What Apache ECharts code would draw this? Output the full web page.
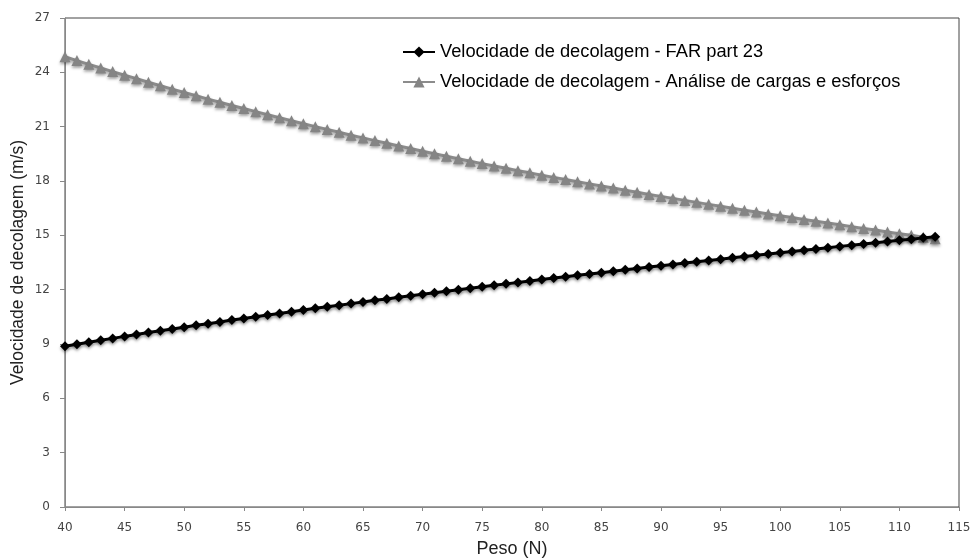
<!DOCTYPE html>
<html>
<head>
<meta charset="utf-8">
<script src="https://cdn.jsdelivr.net/npm/echarts@6/dist/echarts.min.js"></script>
<style>
html,body{margin:0;padding:0;background:#fff;}
#chart{width:975px;height:559px;}
</style>
</head>
<body>
<div id="chart"></div>
<script>
var pesos = [40,41,42,43,44,45,46,47,48,49,50,51,52,53,54,55,56,57,58,59,60,61,62,63,64,65,66,67,68,69,70,71,72,73,74,75,76,77,78,79,80,81,82,83,84,85,86,87,88,89,90,91,92,93,94,95,96,97,98,99,100,101,102,103,104,105,106,107,108,109,110,111,112,113];
var vFar = [8.88,8.99,9.10,9.21,9.31,9.42,9.52,9.63,9.73,9.83,9.93,10.03,10.12,10.22,10.32,10.41,10.51,10.60,10.69,10.78,10.88,10.97,11.06,11.14,11.23,11.32,11.41,11.49,11.58,11.66,11.75,11.83,11.91,12.00,12.08,12.16,12.24,12.32,12.40,12.48,12.56,12.64,12.71,12.79,12.87,12.94,13.02,13.10,13.17,13.25,13.32,13.39,13.47,13.54,13.61,13.68,13.76,13.83,13.90,13.97,14.04,14.11,14.18,14.25,14.32,14.39,14.45,14.52,14.59,14.66,14.73,14.79,14.86,14.92];
var vCargas = [24.86,24.65,24.44,24.24,24.04,23.84,23.65,23.45,23.26,23.07,22.89,22.71,22.52,22.35,22.17,22.00,21.83,21.66,21.49,21.33,21.16,21.00,20.85,20.69,20.53,20.38,20.23,20.08,19.93,19.79,19.64,19.50,19.37,19.23,19.09,18.96,18.83,18.70,18.57,18.45,18.32,18.20,18.08,17.96,17.84,17.72,17.61,17.49,17.38,17.26,17.15,17.04,16.93,16.82,16.71,16.61,16.50,16.39,16.29,16.18,16.08,15.98,15.88,15.78,15.68,15.58,15.48,15.38,15.29,15.19,15.09,15.00,14.90,14.81];
var serieNames = ['Velocidade de decolagem - FAR part 23','Velocidade de decolagem - Análise de cargas e esforços'];
var xName = 'Peso (N)';
var yName = 'Velocidade de decolagem (m/s)';

function pairs(ys){ return pesos.map(function(x,i){ return [x, ys[i]]; }); }

var chart = echarts.init(document.getElementById('chart'), null, {renderer:'canvas'});
var labelFont = {fontFamily:'DejaVu Sans', fontSize:12, color:'#444'};
var shadow = {shadowColor:'rgba(0,0,0,0.35)', shadowBlur:3, shadowOffsetY:2};
chart.setOption({
  animation:false,
  backgroundColor:'#fff',
  grid:{left:65, right:16, top:18, bottom:52, outerBoundsMode:'none', containLabel:false, show:true, borderColor:'#444', borderWidth:1, backgroundColor:'transparent'},
  legend:{
    orient:'vertical', left:397, top:38, itemWidth:32, itemHeight:14, itemGap:12,
    textStyle:{fontFamily:'Liberation Sans', fontSize:18.3, color:'#000'},
    data:serieNames
  },
  xAxis:{
    type:'value', min:40, max:115, interval:5,
    name:xName, nameLocation:'middle', nameGap:33, nameMoveOverlap:false,
    nameTextStyle:{fontFamily:'Liberation Sans', fontSize:18, color:'#222'},
    axisLine:{show:true, lineStyle:{color:'#888', width:1}},
    axisTick:{show:true, inside:false, length:4, lineStyle:{color:'#888'}},
    axisLabel:Object.assign({margin:15}, labelFont),
    splitLine:{show:false}
  },
  yAxis:{
    type:'value', min:0, max:27, interval:3,
    name:yName, nameLocation:'middle', nameGap:38, nameMoveOverlap:false,
    nameTextStyle:{fontFamily:'Liberation Sans', fontSize:17.5, color:'#222'},
    axisLine:{show:true, lineStyle:{color:'#888', width:1}},
    axisTick:{show:true, inside:false, length:5, lineStyle:{color:'#888'}},
    axisLabel:Object.assign({margin:15}, labelFont),
    splitLine:{show:false}
  },
  series:[
    {
      name:serieNames[0], type:'line', data:pairs(vFar),
      symbol:'diamond', symbolSize:10, showSymbol:true,
      lineStyle:Object.assign({color:'#000', width:3}, shadow),
      itemStyle:Object.assign({color:'#000'}, shadow),
      z:3
    },
    {
      name:serieNames[1], type:'line', data:pairs(vCargas),
      symbol:'triangle', symbolSize:11, showSymbol:true,
      lineStyle:Object.assign({color:'#8c8c8c', width:3}, shadow),
      itemStyle:Object.assign({color:'#858585'}, shadow),
      z:2
    }
  ]
});
</script>
</body>
</html>
